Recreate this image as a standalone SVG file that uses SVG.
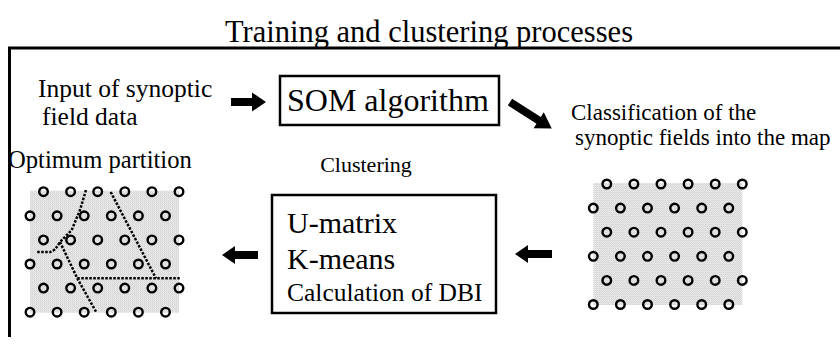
<svg xmlns="http://www.w3.org/2000/svg" width="840" height="347" viewBox="0 0 840 347">
<style>
text{font-family:"Liberation Serif","Times New Roman",serif;fill:#000}
.box{fill:#fff;stroke:#000;stroke-width:2.5}
.frame{stroke:#000;stroke-width:3;fill:none}
.nd{fill:none;stroke:#000;stroke-width:2.4}
.bg{fill:url(#stip)}
.part{fill:none;stroke:#000;stroke-width:2.5;stroke-dasharray:2.5 1.5}
.arr{fill:#000}
</style>
<defs>
<pattern id="stip" width="2" height="2" patternUnits="userSpaceOnUse">
<rect width="2" height="2" fill="#f2f2f2"/>
<rect width="1" height="1" fill="#c8c8c8"/>
<rect x="1" y="1" width="1" height="1" fill="#d4d4d4"/>
</pattern>
<g id="row6a">
<circle class="nd" cx="0" cy="0" r="4.3"/><circle class="nd" cx="27.1" cy="0" r="4.3"/><circle class="nd" cx="54.2" cy="0" r="4.3"/><circle class="nd" cx="81.3" cy="0" r="4.3"/><circle class="nd" cx="108.4" cy="0" r="4.3"/><circle class="nd" cx="135.5" cy="0" r="4.3"/>
</g>
<g id="grid">
<rect class="bg" x="0" y="-1" width="149" height="122"/>
<use href="#row6a" x="13.5" y="0"/>
<use href="#row6a" x="0" y="24.1"/>
<use href="#row6a" x="13.5" y="48.2"/>
<use href="#row6a" x="0" y="72.3"/>
<use href="#row6a" x="13.5" y="96.4"/>
<use href="#row6a" x="0" y="120.5"/>
</g>
</defs>
<text x="429" y="42" font-size="30.5" text-anchor="middle">Training and clustering processes</text>
<g id="frame">
<path class="frame" d="M8,48 H840 M9.5,48 V337"/>
</g>
<g id="input">
<text x="38" y="97" font-size="25.5">Input of synoptic</text>
<text x="42" y="125" font-size="25.5">field data</text>
</g>
<g id="som">
<rect class="box" x="280" y="76" width="219" height="49"/>
<text x="287" y="111" font-size="32">SOM algorithm</text>
</g>
<g id="classification">
<text x="571" y="120" font-size="23">Classification of the</text>
<text x="575" y="145" font-size="23">synoptic fields into the map</text>
</g>
<g id="map">
<use href="#grid" x="593.3" y="184"/>
</g>
<g id="clustering">
<text x="366" y="172" font-size="22" text-anchor="middle">Clustering</text>
<rect class="box" x="272" y="195" width="224" height="118"/>
<text x="287" y="233" font-size="30">U-matrix</text>
<text x="287" y="269" font-size="30">K-means</text>
<text x="287" y="301" font-size="25.5">Calculation of DBI</text>
</g>
<g id="partition">
<text x="8" y="168" font-size="24.6">Optimum partition</text>
<use href="#grid" x="30" y="191.7"/>
<path class="part" d="M86,190 L80,210 L71.7,230 L60,242 Q55,251 50,252 L36,252"/>
<path class="part" d="M60,242 L77.3,278.3 L96.7,313"/>
<path class="part" d="M110.7,192 L156,278.3"/>
<path class="part" d="M77.3,278.3 H180"/>
</g>
<g id="connectors">
<polygon class="arr" points="231,98 252,98 252,92.5 266,102 252,111.5 252,106 231,106"/>
<polygon class="arr" transform="translate(510,102) rotate(32.5)" points="0,-4 34,-4 34,-9.5 49.5,0 34,9.5 34,4 0,4"/>
<polygon class="arr" points="258,251 235,251 235,246 222,255 235,264 235,259 258,259"/>
<polygon class="arr" points="552,250 528,250 528,245 515,254 528,263 528,258 552,258"/>
</g>
</svg>
